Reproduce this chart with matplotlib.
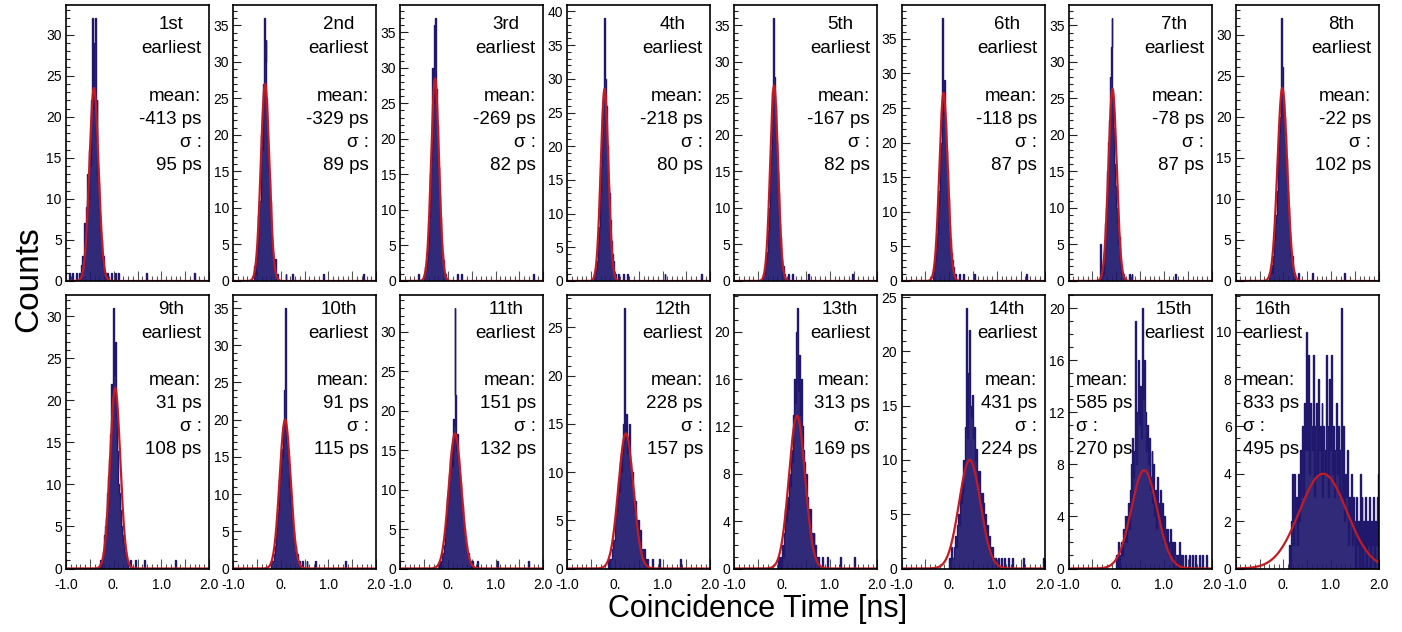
import numpy as np
import matplotlib
matplotlib.use("Agg")
import matplotlib.pyplot as plt
from matplotlib.ticker import MultipleLocator, FuncFormatter

plt.rcParams['font.family'] = ['Liberation Sans', 'DejaVu Sans']

# ---------------- data ----------------
BIN_W = 0.02
X_MIN, X_MAX = -1.0, 2.0

ranks = ["1st", "2nd", "3rd", "4th", "5th", "6th", "7th", "8th",
         "9th", "10th", "11th", "12th", "13th", "14th", "15th", "16th"]
means_ps = [-413, -329, -269, -218, -167, -118, -78, -22,
            31, 91, 151, 228, 313, 431, 585, 833]
sigmas_ps = [95, 89, 82, 80, 82, 87, 87, 102,
             108, 115, 132, 157, 169, 224, 270, 495]
sigma_labels = ["σ :"] * 12 + ["σ:"] + ["σ :"] * 3
fit_amps = [23.5, 27.0, 28.5, 28.5, 26.8, 27.2, 26.3, 23.5,
            21.5, 20.0, 17.1, 14.0, 12.9, 10.0, 7.55, 4.0]
y_major_steps = [5, 5, 5, 5, 5, 5, 5, 5, 5, 5, 5, 5, 4, 5, 4, 2]
y_minor_steps = [1, 1, 1, 1, 1, 1, 1, 1, 1, 1, 1, 1, 1, 1, 1, 0.5]

# left edge (ns) of the first bin of each histogram core
core_starts = [-0.72, -0.58, -0.50, -0.44, -0.40, -0.36, -0.34, -0.32,
               -0.30, -0.22, -0.18, -0.14, -0.08, -0.02, 0.00, 0.10]

counts_01 = [1, 0, 2, 3, 2, 7, 5, 9, 13, 10, 16, 14, 22, 32, 21, 29, 32, 17, 22, 13, 12, 8, 6, 5, 2, 3, 1, 1]
counts_02 = [0, 2, 1, 3, 4, 9, 11, 11, 20, 18, 27, 36, 30, 33, 25, 19, 15, 14, 11, 6, 4, 3, 2, 3, 1]
counts_03 = [1, 2, 2, 3, 5, 9, 15, 17, 30, 25, 36, 30, 37, 27, 22, 16, 12, 9, 5, 4, 3, 1, 1]
counts_04 = [1, 1, 2, 3, 6, 8, 13, 17, 24, 27, 35, 39, 30, 26, 20, 14, 13, 9, 6, 4, 3, 1, 1]
counts_05 = [1, 1, 2, 3, 4, 7, 10, 16, 18, 26, 30, 36, 28, 24, 19, 15, 12, 8, 6, 3, 2, 2, 1]
counts_06 = [0, 1, 2, 3, 5, 7, 11, 13, 19, 20, 27, 38, 24, 29, 23, 19, 16, 12, 8, 6, 4, 3, 2, 1, 1]
counts_07 = [5, 0, 2, 1, 4, 8, 10, 15, 19, 22, 28, 32, 36, 25, 21, 16, 13, 10, 8, 5, 6, 2, 1, 1, 1]
counts_08 = [0, 1, 1, 2, 1, 3, 5, 7, 8, 11, 16, 18, 20, 25, 32, 26, 22, 20, 18, 15, 11, 9, 6, 3, 3, 3, 1, 1, 0]
counts_09 = [0, 1, 0, 1, 2, 4, 5, 6, 9, 11, 13, 16, 22, 20, 31, 23, 27, 18, 16, 14, 10, 9, 7, 5, 4, 3, 2, 2, 1, 1, 0]
counts_10 = [0, 1, 1, 1, 2, 3, 5, 7, 8, 12, 13, 16, 15, 19, 24, 35, 20, 17, 16, 14, 11, 9, 8, 6, 5, 3, 3, 2, 2, 1, 1]
counts_11 = [1, 0, 1, 2, 2, 3, 5, 6, 9, 10, 12, 14, 15, 13, 19, 18, 33, 22, 15, 17, 14, 12, 11, 9, 8, 6, 5, 4, 3, 2, 2, 1, 1]
counts_12 = [1, 0, 1, 1, 2, 3, 3, 5, 6, 7, 9, 8, 11, 10, 12, 15, 13, 27, 14, 16, 12, 13, 15, 11, 9, 10, 8, 6, 7, 5,
             4, 5, 3, 4, 2, 2, 1, 2, 1, 1]
counts_13 = [1, 0, 1, 0, 2, 1, 3, 5, 4, 6, 5, 8, 7, 10, 9, 13, 12, 16, 14, 20, 22, 15, 18, 13, 16, 12, 10, 9, 7, 8,
             6, 5, 4, 5, 3, 3, 2, 3, 1, 2, 1, 1]
counts_14 = [0, 1, 0, 2, 1, 1, 2, 3, 2, 4, 5, 4, 7, 6, 8, 7, 10, 9, 13, 24, 12, 18, 22, 15, 14, 16, 12, 13, 10, 11,
             9, 8, 9, 7, 6, 7, 5, 6, 4, 5, 3, 4, 2, 3, 2, 1, 2, 1, 1, 1]
counts_15 = [1, 0, 2, 0, 1, 2, 1, 3, 2, 4, 2, 4, 5, 3, 6, 8, 5, 10, 7, 9,
             19, 8, 12, 16, 11, 14, 10, 20, 13, 16, 12, 9, 11, 8, 10, 6, 7, 9, 5, 8,
             4, 6, 3, 7, 5, 4, 6, 3, 5, 2, 4, 3, 2, 3, 1, 2, 3, 1, 2, 1,
             0, 2, 1, 1, 0, 1, 2, 0, 1, 1]
counts_16 = [0, 1, 0, 2, 4, 1, 4, 2, 3, 1, 4, 2, 5, 3, 4, 6, 3, 7, 5, 10,
             5, 9, 4, 7, 6, 5, 9, 3, 6, 7, 4, 8, 5, 6, 4, 7, 3, 6, 5, 4,
             9, 6, 3, 8, 5, 9, 4, 6, 3, 5, 7, 4, 6, 3, 5, 11, 4, 3, 6, 2,
             4, 3, 5, 1, 3, 2, 4, 1, 3, 2, 0, 3, 1, 2, 0, 4, 1, 3, 0, 2,
             1, 3, 0, 2, 1, 3, 0, 2, 1, 3, 0, 2, 1, 3, 4]

# isolated single-count entries (ns) outside the cores
tails_01 = [-0.93, -0.88, -0.78, -0.13, -0.05, 0.03, 0.11, 0.69, 1.69]
tails_02 = [-0.07, 0.11, 0.25, 0.89, 1.73]
tails_03 = [-0.61, 0.21, 0.29, 1.78]
tails_04 = [0.07, 0.16, 0.26, 1.05, 1.80]
tails_05 = [0.13, 0.21, 0.55, 1.46]
tails_06 = [0.21, 0.31, 0.52, 1.63]
tails_07 = [0.27, 0.33, 1.24]
tails_08 = [0.31, 0.61, 1.28]
tails_09 = [0.35, 0.45, 0.64, 1.29]
tails_10 = [0.45, 0.55, 0.72, 1.35]
tails_11 = [0.51, 0.63, 1.05, 1.68]
tails_12 = [0.69, 0.79, 0.93, 1.37]
tails_13 = [0.77, 0.85, 0.95, 1.23, 1.51]
tails_14 = [1.03, 1.09, 1.17, 1.25, 1.33, 1.55, 1.97]
tails_15 = [1.45, 1.52, 1.58, 1.66, 1.74, 1.81, 1.88]
tails_16 = []

all_counts = [counts_01, counts_02, counts_03, counts_04, counts_05, counts_06, counts_07, counts_08,
              counts_09, counts_10, counts_11, counts_12, counts_13, counts_14, counts_15, counts_16]
all_tails = [tails_01, tails_02, tails_03, tails_04, tails_05, tails_06, tails_07, tails_08,
             tails_09, tails_10, tails_11, tails_12, tails_13, tails_14, tails_15, tails_16]

# ---------------- style ----------------
NAVY = "#1f186c"
RED = "#c41a22"
TICK_GRAY = "#555555"
W, H = 1402, 632
fig = plt.figure(figsize=(W / 100, H / 100), dpi=100)

AX_W = 143
row_top = [5, 295]
row_h = [276, 273.5]
lefts = [66 + 167.1 * i for i in range(8)]

n_bins = int(round((X_MAX - X_MIN) / BIN_W))
edges = X_MIN + BIN_W * np.arange(n_bins + 1)
x_fit = np.linspace(X_MIN, X_MAX, 800)


def xfmt(v, pos):
    r = round(v * 2) / 2
    if abs(r - round(r)) > 1e-6:
        return ""
    r = int(round(r))
    return "0." if r == 0 else f"{r:.1f}"


TXT = 13.5
ann = []
for i in range(16):
    row, col = divmod(i, 8)
    top, hgt = row_top[row], row_h[row]
    ax = fig.add_axes([lefts[col] / W, 1 - (top + hgt) / H, AX_W / W, hgt / H])

    full = np.zeros(n_bins)
    i0 = int(round((core_starts[i] - X_MIN) / BIN_W))
    c = np.asarray(all_counts[i], dtype=float)
    full[i0:i0 + len(c)] += c
    for t in all_tails[i]:
        full[int(np.floor((t - X_MIN) / BIN_W + 1e-9))] += 1

    ax.stairs(full, edges, color=NAVY, fill=True, lw=0, alpha=0.92, zorder=2)
    ax.stairs(full, edges, color=NAVY, lw=1.0, zorder=2)
    mu = means_ps[i] / 1000.0
    sg = sigmas_ps[i] / 1000.0
    ax.plot(x_fit, fit_amps[i] * np.exp(-0.5 * ((x_fit - mu) / sg) ** 2),
            color=RED, lw=1.6, zorder=3)

    ax.set_xlim(X_MIN, X_MAX)
    ax.set_ylim(0, 1.05 * full.max())

    ax.xaxis.set_major_locator(MultipleLocator(0.5))
    ax.xaxis.set_minor_locator(MultipleLocator(0.1))
    ax.xaxis.set_major_formatter(FuncFormatter(xfmt))
    ax.yaxis.set_major_locator(MultipleLocator(y_major_steps[i]))
    ax.yaxis.set_minor_locator(MultipleLocator(y_minor_steps[i]))
    ax.tick_params(axis='x', which='major', direction='in', length=7, width=0.8,
                   color=TICK_GRAY, labelsize=10, pad=7, labelbottom=(row == 1))
    ax.tick_params(axis='x', which='minor', direction='in', length=3.5, width=0.8,
                   color=TICK_GRAY)
    ax.tick_params(axis='y', which='major', direction='in', length=6, width=0.8,
                   color="#222222", labelsize=10, pad=3)
    ax.tick_params(axis='y', which='minor', direction='in', length=3, width=0.8,
                   color="#222222")
    for sp in ax.spines.values():
        sp.set_linewidth(1.2)
        sp.set_color("black")
        sp.set_zorder(5)

    def yb(rel):
        return 1 - rel / hgt

    if row == 0:
        rank_b = [24.2, 47.7]
        stat_b = [96, 119, 142, 165]
    else:
        rank_b = [19.2, 42.7]
        stat_b = [90, 113, 136, 159]

    xr = 1 - 7.5 / AX_W
    xl = 7 / AX_W
    if i == 15:
        te = ax.text(xl, yb(rank_b[1]), "earliest", ha='left', va='baseline',
                     transform=ax.transAxes, fontsize=TXT, zorder=6)
    else:
        te = ax.text(xr, yb(rank_b[1]), "earliest", ha='right', va='baseline',
                     transform=ax.transAxes, fontsize=TXT, zorder=6)
    ann.append((ax, te, ranks[i], yb(rank_b[0])))

    lines = ["mean:", f"{means_ps[i]} ps", sigma_labels[i], f"{sigmas_ps[i]} ps"]
    for k, s in enumerate(lines):
        if i >= 14:
            ax.text(xl, yb(stat_b[k]), s, ha='left', va='baseline',
                    transform=ax.transAxes, fontsize=TXT, zorder=6)
        else:
            ax.text(xr, yb(stat_b[k]), s, ha='right', va='baseline',
                    transform=ax.transAxes, fontsize=TXT, zorder=6)

fig.canvas.draw()
rend = fig.canvas.get_renderer()
for ax, te, rk, yr in ann:
    bb = te.get_window_extent(renderer=rend)
    cx = ax.transAxes.inverted().transform(((bb.x0 + bb.x1) / 2, 0))[0]
    ax.text(cx, yr, rk, ha='center', va='baseline', transform=ax.transAxes,
            fontsize=TXT, zorder=6)

fig.text(29 / W, 1 - 279 / H, "Counts", rotation=90, ha='center', va='center', fontsize=24)
fig.text(758 / W, 1 - 609 / H, "Coincidence Time [ns]", ha='center', va='center', fontsize=22)

fig.savefig("out.png", dpi=100)
